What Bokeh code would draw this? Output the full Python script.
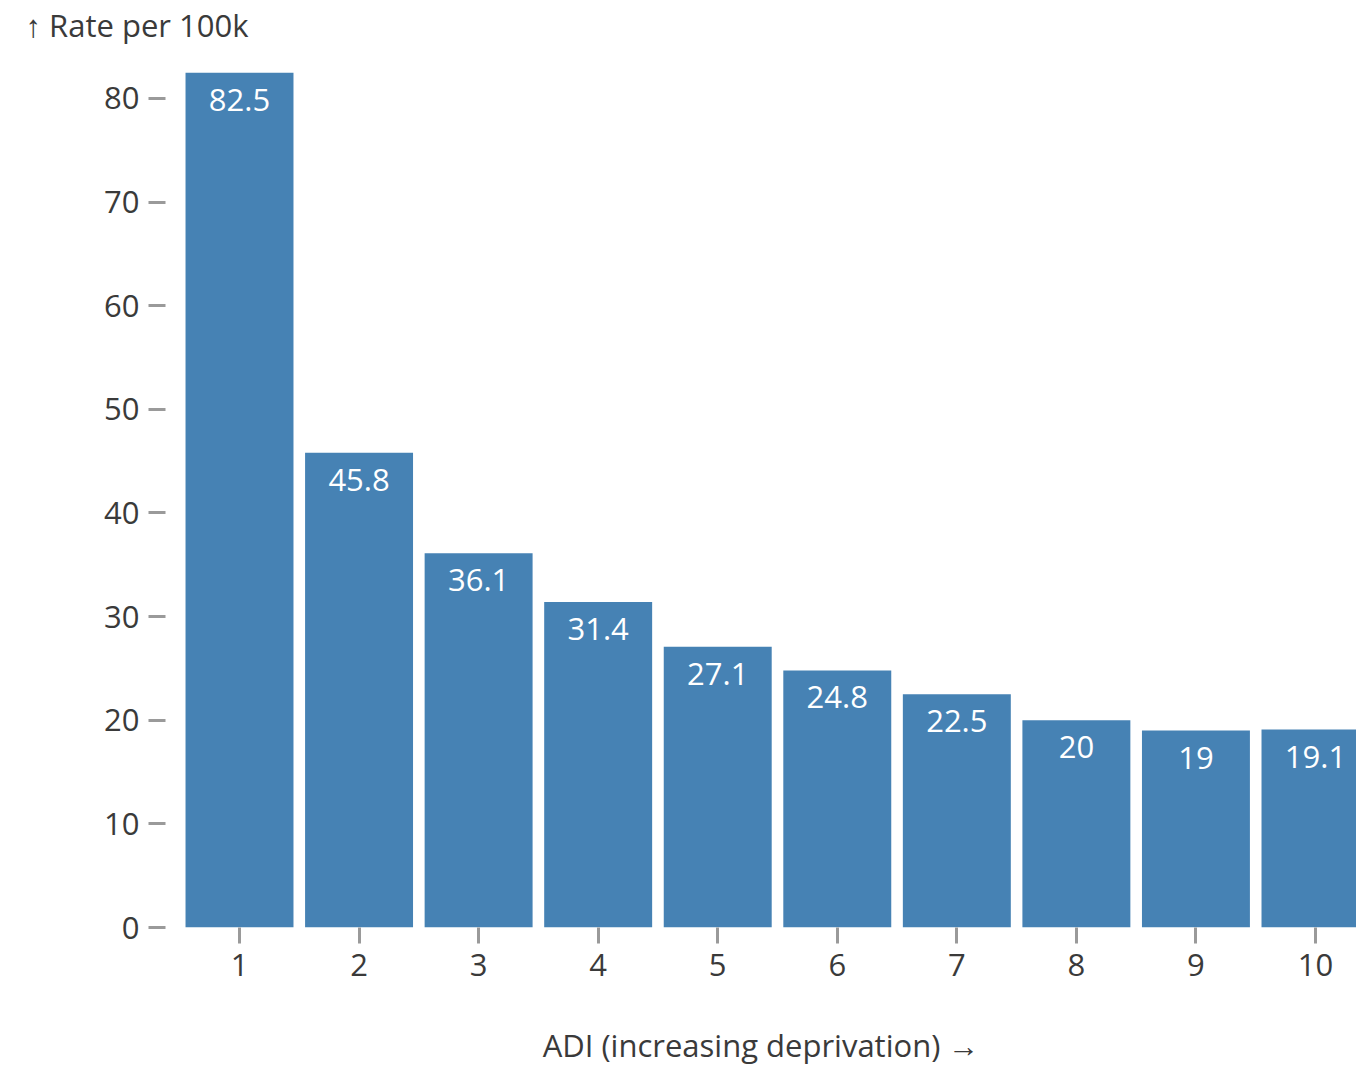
from bokeh.plotting import figure
from bokeh.models import ColumnDataSource, FixedTicker, Range1d, Title
from bokeh.embed import file_html
from bokeh.resources import INLINE
from bokeh.core.properties import value

# Data
adi = [1, 2, 3, 4, 5, 6, 7, 8, 9, 10]
rates = [82.5, 45.8, 36.1, 31.4, 27.1, 24.8, 22.5, 20, 19, 19.1]
rate_labels = [f"{r:g}" for r in rates]
y_ticks = [0, 10, 20, 30, 40, 50, 60, 70, 80]
y_title = "↑ Rate per 100k"
x_title = "ADI (increasing deprivation) →"

FONT = "Open Sans"
FS = "31px"
TXT = "#3a3a3a"
BAR = "#4682b4"

src = ColumnDataSource(dict(x=adi, top=rates, lab=rate_labels))

p = figure(width=1356, height=1068, output_backend="svg", toolbar_location=None,
           x_range=Range1d(0.381, 10.343), y_range=Range1d(0, 82.5),
           min_border_left=165, min_border_right=0, min_border_top=72,
           min_border_bottom=141, outline_line_color=None,
           background_fill_color="white", border_fill_color="white")
p.xgrid.visible = False
p.ygrid.visible = False

p.title.text = y_title
p.title.align = "left"
p.title.offset = -140
p.title.standoff = 0
p.title.text_font = FONT
p.title.text_font_size = FS
p.title.text_font_style = "normal"
p.title.text_color = TXT

# spacer between the title and the plot frame
p.add_layout(Title(text=" ", text_font_size="1px", standoff=24), "above")

p.vbar(x="x", top="top", width=0.903, bottom=0, source=src,
       fill_color=BAR, line_color=None)
p.text(x="x", y="top", text="lab", source=src, text_align="center",
       text_baseline="middle", y_offset=27, text_color="white",
       text_font=value(FONT), text_font_size=FS)

for ax in (p.xaxis[0], p.yaxis[0]):
    ax.axis_line_color = None
    ax.major_tick_line_color = "#9a9a9a"
    ax.major_tick_line_width = 3
    ax.minor_tick_line_color = None
    ax.major_tick_in = 0
    ax.major_label_text_font = FONT
    ax.major_label_text_font_size = FS
    ax.major_label_text_color = TXT

p.xaxis.ticker = FixedTicker(ticks=adi)
p.xaxis.major_tick_out = 16
p.xaxis.major_label_standoff = 10
p.xaxis.axis_label = x_title
p.xaxis.axis_label_standoff = 45
p.xaxis.axis_label_text_font = FONT
p.xaxis.axis_label_text_font_size = FS
p.xaxis.axis_label_text_font_style = "normal"
p.xaxis.axis_label_text_color = TXT

p.yaxis.ticker = FixedTicker(ticks=y_ticks)
p.yaxis.major_tick_out = 17
p.yaxis.major_label_standoff = 9

open("out.html", "w").write(file_html(p, INLINE))
